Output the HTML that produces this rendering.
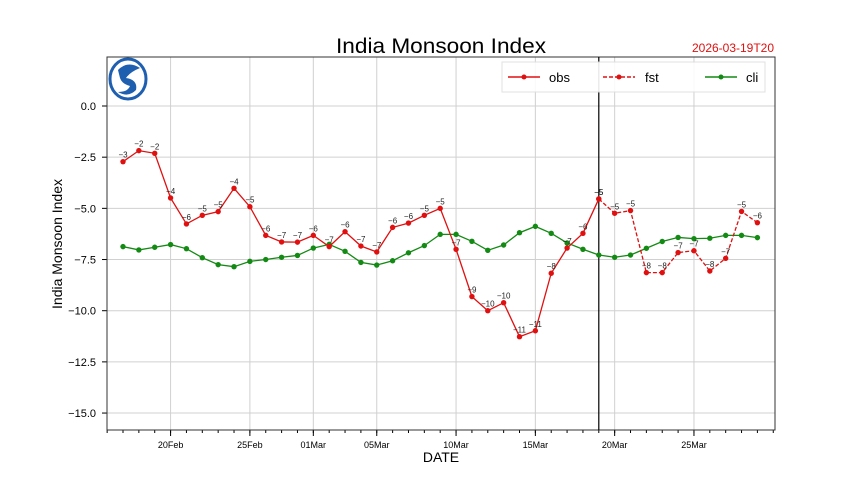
<!DOCTYPE html>
<html><head><meta charset="utf-8"><style>
body{margin:0;background:#fff;width:860px;height:483px;overflow:hidden}
text{font-family:"Liberation Sans","WenQuanYi Zen Hei",sans-serif}
</style></head><body>
<svg id="chart" width="860" height="483" xmlns="http://www.w3.org/2000/svg">
<text x="441" y="53" text-anchor="middle" font-size="21" fill="#000" textLength="210" lengthAdjust="spacingAndGlyphs">India Monsoon Index</text>
<text x="733" y="52" text-anchor="middle" font-size="12" fill="#e01010">2026-03-19T20</text>
<text transform="translate(62,244) rotate(-90)" text-anchor="middle" font-size="14" fill="#000">India Monsoon Index</text>
<text x="441" y="462" text-anchor="middle" font-size="14" fill="#000">DATE</text>
<g id="grid"></g><g id="axes"></g><g id="series"></g>
<g>
<ellipse cx="128" cy="79" rx="18" ry="20" fill="#fff" stroke="#1f5fb0" stroke-width="3"/>
<path d="M118 70 Q128 60 140 68 Q130 72 126 78 Q138 80 136 90 Q128 98 118 92 Q128 92 130 86 Q122 84 120 78 Z" fill="#1f5fb0"/>
</g>
<g>
<rect x="502" y="62" width="263" height="30" fill="#fff" stroke="#ddd" opacity="0.9"/>
<g><line x1="508" y1="77" x2="540" y2="77" stroke="#e01010" stroke-width="1.4"/><circle cx="524" cy="77" r="2.5" fill="#e01010"/><text x="549" y="82" font-size="13">obs</text></g>
<g><line x1="603" y1="77" x2="635" y2="77" stroke="#e01010" stroke-width="1.4" stroke-dasharray="4,2"/><circle cx="619" cy="77" r="2.5" fill="#e01010"/><text x="645" y="82" font-size="13">fst</text></g>
<g><line x1="705" y1="77" x2="737" y2="77" stroke="#138a13" stroke-width="1.4"/><circle cx="721" cy="77" r="2.5" fill="#138a13"/><text x="746" y="82" font-size="13">cli</text></g>
</g>
</svg>
<script>
const startDay = 0; // index 0 = 17 Feb 2026
const obsValues = [-2.72,-2.18,-2.31,-4.49,-5.76,-5.34,-5.16,-4.02,-4.92,-6.32,-6.64,-6.65,-6.32,-6.87,-6.14,-6.84,-7.13,-5.93,-5.72,-5.34,-5.0,-7.0,-9.31,-10.0,-9.61,-11.27,-10.98,-8.17,-6.94,-6.22,-4.54];
const fstValues = [-4.54,-5.24,-5.11,-8.14,-8.14,-7.16,-7.07,-8.06,-7.44,-5.15,-5.7];
const cliValues = [-6.87,-7.03,-6.9,-6.77,-6.97,-7.41,-7.75,-7.85,-7.59,-7.5,-7.39,-7.3,-6.94,-6.76,-7.1,-7.64,-7.77,-7.56,-7.17,-6.82,-6.27,-6.27,-6.61,-7.05,-6.79,-6.19,-5.88,-6.22,-6.69,-7.0,-7.28,-7.39,-7.28,-6.95,-6.62,-6.42,-6.48,-6.46,-6.32,-6.32,-6.43];
const yTicks = [0,-2.5,-5,-7.5,-10,-12.5,-15];
const yTickLabels = ["0.0","\u22122.5","\u22125.0","\u22127.5","\u221210.0","\u221212.5","\u221215.0"];
const xTickIdx = [3,8,12,16,21,26,31,36];
const xTickLabels = ["20Feb","25Feb","01Mar","05Mar","10Mar","15Mar","20Mar","25Mar"];
const fstStart = 30;

const L=107,R=775,T=57,B=430;
const x=i=>123+(i-startDay)*15.86;
const y=v=>106-v*20.47;
const NS="http://www.w3.org/2000/svg";
function mk(tag,attrs,parent){const e=document.createElementNS(NS,tag);for(const k in attrs)e.setAttribute(k,attrs[k]);parent.appendChild(e);return e;}
const grid=document.getElementById('grid'),axes=document.getElementById('axes'),ser=document.getElementById('series');
yTicks.forEach((v,i)=>{
 const g=mk('line',{x1:L,x2:R,y1:y(v),y2:y(v),stroke:'#d0d0d0','stroke-width':1},grid);
 
 
 mk('line',{x1:L-5,x2:L,y1:y(v),y2:y(v),stroke:'#000'},axes);
 const t=mk('text',{x:L-11,y:y(v)+4,'text-anchor':'end','font-size':11},axes);t.textContent=yTickLabels[i];
 
 
});
xTickIdx.forEach((d,i)=>{
 const g=mk('line',{x1:x(d),x2:x(d),y1:T,y2:B,stroke:'#d0d0d0','stroke-width':1},grid);
 
 
 mk('line',{x1:x(d),x2:x(d),y1:B,y2:B+6,stroke:'#000'},axes);
 const t=mk('text',{x:x(d),y:B+18,'text-anchor':'middle','font-size':9},axes);t.textContent=xTickLabels[i];
 
 
});
for(let d=-1;d<42;d++){const xx=x(d);if(xx>L&&xx<R)mk('line',{x1:xx,x2:xx,y1:B,y2:B+3,stroke:'#000'},axes);}
const fr=mk('rect',{x:L,y:T,width:R-L,height:B-T,fill:'none',stroke:'#333','stroke-width':1},axes);


const vl=mk('line',{x1:x(fstStart),x2:x(fstStart),y1:T,y2:B,stroke:'#000','stroke-width':1.2},axes);


function series(vals,off,color,dash,name,labels){
 const pts=vals.map((v,i)=>x(off+i)+','+y(v)).join(' ');
 const pl=mk('polyline',{points:pts,fill:'none',stroke:color,'stroke-width':1.3,'stroke-dasharray':dash||'none'},ser);
 
 
 vals.forEach((v,i)=>{
  const c=mk('circle',{cx:x(off+i),cy:y(v),r:2.7,fill:color},ser);
  
  
  if(labels){const t=mk('text',{x:x(off+i),y:y(v)-4,'text-anchor':'middle','font-size':8,fill:'#222'},ser);t.textContent=String(Math.round(v)).replace('-','\u2212');
   
   }
 });
}
series(cliValues,0,'#138a13',null,'cli',false);
series(fstValues,fstStart,'#e01010','4,2','fst',true);
series(obsValues,0,'#e01010',null,'obs',true);
</script>
</body></html>
